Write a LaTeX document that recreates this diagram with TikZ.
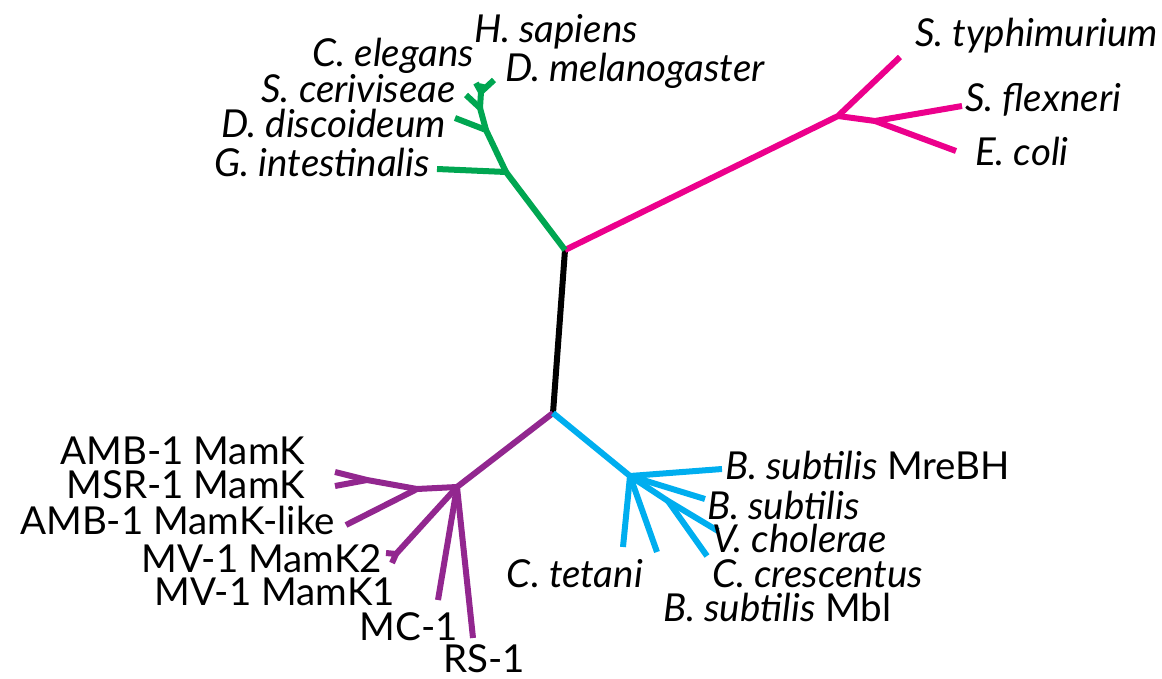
\documentclass[tikz,border=0pt]{standalone}
\usepackage{fontspec}
\setmainfont{Lato}
\definecolor{euk}{RGB}{0,166,81}
\definecolor{ent}{RGB}{236,0,140}
\definecolor{mag}{RGB}{146,39,143}
\definecolor{bac}{RGB}{0,174,239}
\tikzset{
  branch/.style={line width=6pt, line cap=butt, line join=round},
  leaf/.style={font=\fontsize{38.5}{41}\selectfont, inner sep=0pt},
  leafL/.style={leaf, anchor=base east},
  leafR/.style={leaf, anchor=base west},
}
\begin{document}
\begin{tikzpicture}[x=1pt,y=-1pt]
\useasboundingbox (0,0) rectangle (1162,679);

% internal nodes and tips
\coordinate (top) at (565,250);
\coordinate (bot) at (553,413);
% enterobacteria
\coordinate (m1) at (838,116);
\coordinate (mtyp) at (900,57);
\coordinate (m2) at (875,121);
\coordinate (mflx) at (962,106);
\coordinate (mcol) at (956,151);
% eukaryotes
\coordinate (g1) at (506,172);
\coordinate (gint) at (437,169);
\coordinate (g2) at (486,130);
\coordinate (gdis) at (455,118);
\coordinate (g3) at (480,108);
\coordinate (gcer) at (466,95);
\coordinate (g4) at (481,92);
\coordinate (gele) at (476,83);
\coordinate (gsap) at (483,84);
\coordinate (gmel) at (494,80);
% magnetotactic bacteria
\coordinate (p1) at (457,487);
\coordinate (p2) at (417,489);
\coordinate (p3) at (367,480);
\coordinate (pamb) at (335,472);
\coordinate (pmsr) at (335,486);
\coordinate (plike) at (346,525);
\coordinate (pmv) at (396,554);
\coordinate (pmv2) at (386,553);
\coordinate (pmv1) at (392,563);
\coordinate (pmc) at (438,600);
\coordinate (prs) at (473,638);
% other bacteria
\coordinate (c1) at (630,476);
\coordinate (cmre) at (722,469);
\coordinate (cbsu) at (705,499);
\coordinate (cj) at (668,501);
\coordinate (cvch) at (718,531);
\coordinate (ccre) at (707,556);
\coordinate (cmbl) at (657,552);
\coordinate (ctet) at (623,547);

% branches
\draw[branch, black] (top) -- (bot);
\draw[branch, ent] (top) -- (m1) -- (mtyp);
\draw[branch, ent] (m1) -- (m2) -- (mflx);
\draw[branch, ent] (m2) -- (mcol);
\draw[branch, euk] (top) -- (g1) -- (gint);
\draw[branch, euk] (g1) -- (g2) -- (gdis);
\draw[branch, euk] (g2) -- (g3) -- (gcer);
\draw[branch, euk] (g3) -- (g4) -- (gele);
\draw[branch, euk] (g4) -- (gsap);
\draw[branch, euk] (g4) -- (gmel);
\draw[branch, mag] (bot) -- (p1) -- (p2) -- (p3) -- (pamb);
\draw[branch, mag] (p3) -- (pmsr);
\draw[branch, mag] (p2) -- (plike);
\draw[branch, mag] (p1) -- (pmv) -- (pmv2);
\draw[branch, mag] (pmv) -- (pmv1);
\draw[branch, mag] (p1) -- (pmc);
\draw[branch, mag] (p1) -- (prs);
\draw[branch, bac] (bot) -- (c1) -- (cmre);
\draw[branch, bac] (c1) -- (cbsu);
\draw[branch, bac] (c1) -- (cj) -- (cvch);
\draw[branch, bac] (cj) -- (ccre);
\draw[branch, bac] (c1) -- (cmbl);
\draw[branch, bac] (c1) -- (ctet);

% labels
\node[leafR] (lsap) at (474,43) {\itshape H. sapiens};
\node[leafL] (lele) at (474,67) {\itshape C. elegans};
\node[leafR] (lmel) at (505,82) {\itshape D. melanogaster};
\node[leafL] (lcer) at (456,103) {\itshape S. ceriviseae};
\node[leafL] (ldis) at (446,138) {\itshape D. discoideum};
\node[leafL] (lint) at (430,177) {\itshape G. intestinalis};
\node[leafR] (ltyp) at (915,47) {\itshape S. typhimurium};
\node[leafR] (lflx) at (965,112) {\itshape S. flexneri};
\node[leafR] (lcol) at (975,166) {\itshape E. coli};
\node[leafL] (lamb) at (305,464) {AMB-1 MamK};
\node[leafL] (lmsr) at (305,498) {MSR-1 MamK};
\node[leafL] (llike) at (335,534) {AMB-1 MamK-like};
\node[leafL] (lmv2) at (382,572) {MV-1 MamK2};
\node[leafL] (lmv1) at (395,605) {MV-1 MamK1};
\node[leafL] (lmc) at (458,640) {MC-1};
\node[leafL] (lrs) at (525,672) {RS-1};
\node[leafR] (lmre) at (725,479) {\itshape B. subtilis\upshape\ MreBH};
\node[leafR] (lbsu) at (707,519) {\itshape B. subtilis};
\node[leafR] (lvch) at (712,552) {\itshape V. cholerae};
\node[leafL] (ltet) at (643,587) {\itshape C. tetani};
\node[leafR] (lcre) at (712,587) {\itshape C. crescentus};
\node[leafR] (lmbl) at (663,621) {\itshape B. subtilis\upshape\ Mbl};
\end{tikzpicture}
\end{document}
